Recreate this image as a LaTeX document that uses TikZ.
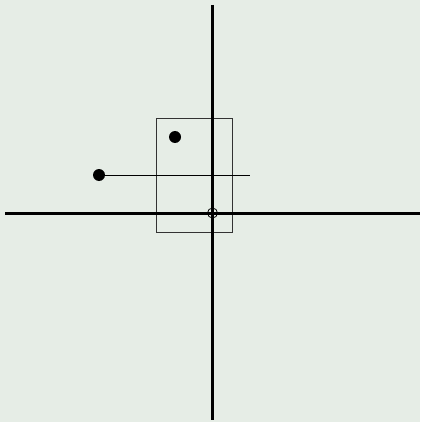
\documentclass[tikz,border=0pt]{standalone}
\usetikzlibrary{positioning}
\definecolor{bgpaper}{HTML}{E6EDE6}
\tikzset{
  dotnode/.style={circle,fill=black,inner sep=0pt,minimum size=12pt},
  ringnode/.style={circle,draw=black,thick,inner sep=0pt,minimum size=10pt},
  boxnode/.style={draw=black!80,thin,inner sep=0pt,minimum width=76pt,minimum height=114pt},
  axisline/.style={line width=3pt}
}
\begin{document}
\begin{tikzpicture}[x=1pt, y=-1pt]
		\fill[bgpaper] (0,0) rectangle (420,422);
		\useasboundingbox (0,0) rectangle (420,422);
		% frame
		\node[boxnode] (frame) at (194,175) {};
		% axes
		\coordinate (xl) at (5,213);
		\coordinate (xr) at (420,213);
		\coordinate (yt) at (212.5,5);
		\coordinate (yb) at (212.5,420);
		\draw[axisline] (xl) -- (xr);
		\draw[axisline] (yt) -- (yb);
		% points
		\node[ringnode] (origin) at (212.5,213) {};
		\node[dotnode] (p1) at (175,137) {};
		\node[dotnode] (p2) at (99,175) {};
		\coordinate (p2end) at (250,175);
		\draw[thin] (p2) -- (p2end);
\end{tikzpicture}
\end{document}
